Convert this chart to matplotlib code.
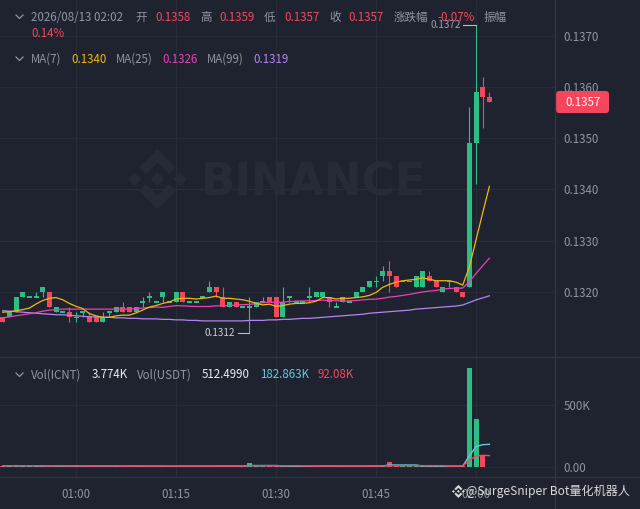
import numpy as np
import pandas as pd
import matplotlib
matplotlib.use("Agg")
import matplotlib.pyplot as plt
from matplotlib.patches import Polygon, FancyBboxPatch

plt.rcParams['font.family'] = ['Noto Sans CJK SC', 'DejaVu Sans']

BG = '#1f2330'
GRID = '#292d38'
SEP = '#31353f'
TXT = '#8f96a1'
UP = '#2ebd85'
DOWN = '#f6465d'
MA7_C = '#f0b90b'
MA25_C = '#eb40b5'
MA99_C = '#b385f0'
VMA5_C = '#64c8dc'
VMA10_C = '#f6465d'
WM = '#262b37'

# 1-minute candles, 00:49 .. 02:02
opens = [0.1315, 0.1315, 0.1316, 0.1319, 0.1319, 0.1319, 0.1320, 0.1320, 0.1316, 0.1316,
         0.1316, 0.1315, 0.1316, 0.1315, 0.1315, 0.1314, 0.1316, 0.1316, 0.1317, 0.1317,
         0.1316, 0.1318, 0.1319, 0.1318, 0.1319, 0.1318, 0.1318, 0.1320, 0.1318, 0.1318,
         0.1319, 0.1320, 0.1321, 0.1319, 0.1317, 0.1318, 0.1317, 0.1317, 0.1317, 0.1318,
         0.1319, 0.1319, 0.1315, 0.1319, 0.1318, 0.1318, 0.1319, 0.1319, 0.1319, 0.1319,
         0.1317, 0.1318, 0.1318, 0.1319, 0.1320, 0.1321, 0.1322, 0.1323, 0.1324, 0.1323,
         0.1322, 0.1322, 0.1321, 0.1321, 0.1323, 0.1322, 0.1320, 0.1322, 0.1321, 0.1320,
         0.1321, 0.1349, 0.1360, 0.1358]
highs = [0.1315, 0.1316, 0.1319, 0.1320, 0.1319, 0.1320, 0.1321, 0.1320, 0.1317, 0.1316,
         0.1317, 0.1316, 0.1316, 0.1316, 0.1315, 0.1316, 0.1316, 0.1317, 0.1318, 0.1317,
         0.1317, 0.1319, 0.1320, 0.1318, 0.1320, 0.1318, 0.1320, 0.1320, 0.1318, 0.1318,
         0.1319, 0.1322, 0.1321, 0.1321, 0.1318, 0.1318, 0.1317, 0.1319, 0.1318, 0.1319,
         0.1319, 0.1319, 0.1321, 0.1319, 0.1318, 0.1318, 0.1321, 0.1320, 0.1320, 0.1319,
         0.1318, 0.1319, 0.1318, 0.1320, 0.1321, 0.1322, 0.1323, 0.1325, 0.1326, 0.1323,
         0.1322, 0.1322, 0.1323, 0.1324, 0.1324, 0.1322, 0.1321, 0.1322, 0.1321, 0.1320,
         0.1356, 0.1372, 0.1362, 0.1359]
lows = [0.1314, 0.1315, 0.1316, 0.1319, 0.1319, 0.1319, 0.1319, 0.1317, 0.1316, 0.1316,
        0.1314, 0.1314, 0.1315, 0.1314, 0.1314, 0.1314, 0.1315, 0.1316, 0.1316, 0.1316,
        0.1316, 0.1317, 0.1318, 0.1318, 0.1318, 0.1318, 0.1318, 0.1318, 0.1318, 0.1318,
        0.1319, 0.1320, 0.1319, 0.1317, 0.1317, 0.1317, 0.1317, 0.1312, 0.1317, 0.1318,
        0.1318, 0.1315, 0.1315, 0.1318, 0.1318, 0.1318, 0.1318, 0.1319, 0.1319, 0.1317,
        0.1317, 0.1318, 0.1318, 0.1319, 0.1320, 0.1321, 0.1321, 0.1322, 0.1320, 0.1321,
        0.1322, 0.1322, 0.1321, 0.1321, 0.1322, 0.1321, 0.1320, 0.1321, 0.1320, 0.1319,
        0.1321, 0.1341, 0.1352, 0.1357]
closes = [0.1314, 0.1316, 0.1319, 0.1320, 0.1319, 0.1319, 0.1321, 0.1317, 0.1317, 0.1316,
          0.1315, 0.1315, 0.1316, 0.1314, 0.1314, 0.1315, 0.1316, 0.1317, 0.1316, 0.1316,
          0.1317, 0.1318, 0.1319, 0.1318, 0.1320, 0.1318, 0.1320, 0.1318, 0.1318, 0.1318,
          0.1319, 0.1321, 0.1320, 0.1317, 0.1318, 0.1317, 0.1317, 0.1317, 0.1318, 0.1318,
          0.1318, 0.1315, 0.1318, 0.1319, 0.1318, 0.1318, 0.1319, 0.1320, 0.1320, 0.1318,
          0.1317, 0.1319, 0.1318, 0.1320, 0.1321, 0.1322, 0.1322, 0.1324, 0.1323, 0.1321,
          0.1322, 0.1322, 0.1323, 0.1324, 0.1322, 0.1321, 0.1321, 0.1322, 0.1320, 0.1319,
          0.1349, 0.1359, 0.1358, 0.1357]

# MA values before enough candles are on screen
ma7_head = [0.13160, 0.13161, 0.13163, 0.13165, 0.13168, 0.13176]
ma25_head = [0.13149, 0.13151, 0.13153, 0.13155, 0.13157, 0.13159, 0.13162, 0.13164,
             0.13165, 0.13166, 0.13166, 0.13166, 0.13166, 0.13166, 0.13166, 0.13166,
             0.13166, 0.13166, 0.13166, 0.13166, 0.13167, 0.13168, 0.13169, 0.13170]
ma99 = [0.13163, 0.13162, 0.13161, 0.13160, 0.13159, 0.13158, 0.13157, 0.13156, 0.13155, 0.13155,
        0.13154, 0.13153, 0.13152, 0.13151, 0.13151, 0.13150, 0.13150, 0.13149, 0.13149, 0.13148,
        0.13148, 0.13147, 0.13147, 0.13147, 0.13146, 0.13146, 0.13145, 0.13145, 0.13144, 0.13144,
        0.13143, 0.13143, 0.13143, 0.13143, 0.13143, 0.13143, 0.13143, 0.13144, 0.13144, 0.13144,
        0.13145, 0.13145, 0.13146, 0.13146, 0.13147, 0.13148, 0.13148, 0.13149, 0.13150, 0.13151,
        0.13152, 0.13153, 0.13154, 0.13155, 0.13156, 0.13158, 0.13159, 0.13160, 0.13161, 0.13162,
        0.13163, 0.13164, 0.13166, 0.13167, 0.13168, 0.13169, 0.13170, 0.13171, 0.13172, 0.13174,
        0.13179, 0.13184, 0.13188, 0.13192]

# volume in K
volumes = [12, 10, 15, 8, 6, 6, 9, 11, 8, 5, 9, 7, 6, 10, 9, 8, 5, 7, 8, 8,
           7, 6, 7, 5, 8, 5, 9, 8, 5, 5, 6, 10, 8, 9, 7, 8, 5, 30, 8, 6,
           7, 10, 9, 6, 5, 5, 7, 8, 8, 7, 6, 8, 5, 8, 9, 10, 7, 9, 40, 9,
           6, 5, 8, 10, 8, 7, 6, 6, 8, 9, 800, 385, 95, 3.774]
vol_ma5 = [10, 10, 11, 10, 10, 9, 8, 8, 8, 8, 8, 8, 7, 8, 8, 8, 8, 7, 7, 7,
           8, 7, 7, 7, 7, 6, 7, 7, 7, 7, 7, 7, 7, 8, 8, 8, 7, 12, 12, 12,
           12, 12, 8, 7, 6, 6, 7, 7, 8, 8, 7, 7, 7, 7, 7, 8, 8, 9, 16, 16,
           16, 16, 16, 8, 7, 7, 7, 7, 7, 8, 90, 165, 180, 183]
vol_ma10 = [10, 10, 10, 10, 10, 10, 9, 9, 9, 9, 9, 8, 8, 8, 8, 8, 8, 8, 7, 7,
            7, 7, 7, 7, 7, 7, 7, 7, 7, 7, 7, 7, 7, 7, 7, 7, 7, 10, 10, 10,
            10, 10, 10, 10, 10, 9, 7, 7, 7, 7, 7, 7, 7, 7, 7, 7, 7, 8, 11, 11,
            11, 11, 11, 11, 11, 11, 11, 7, 7, 8, 55, 88, 94, 92]

time_ticks = [11, 26, 41, 56, 71]
time_labels = ['01:00', '01:15', '01:30', '01:45', '02:00']
price_ticks = [0.1320, 0.1330, 0.1340, 0.1350, 0.1360, 0.1370]

o = np.array(opens)
h = np.array(highs)
l = np.array(lows)
c = np.array(closes)
x = np.arange(len(c))
cols = np.where(c >= o, UP, DOWN)

close_s = pd.Series(closes)
ma7 = close_s.rolling(7).mean().to_numpy()
ma7[:6] = ma7_head
ma25 = close_s.rolling(25).mean().to_numpy()
ma25[:24] = ma25_head

fig = plt.figure(figsize=(6.4, 5.09), dpi=100, facecolor=BG)
W, H = 640, 509
ax = fig.add_axes([0, 1 - 357 / H, 555 / W, 357 / H], facecolor='none')
axv = fig.add_axes([0, 1 - 477 / H, 555 / W, 120 / H], facecolor='none')

xlim = (-0.405, 82.84)

# candles
minh = 0.00003
body = np.abs(c - o)
pad = np.maximum(0, minh - body) / 2
ax.vlines(x, l, h, colors=cols, lw=0.8, zorder=2)
ax.bar(x, np.maximum(body, minh), bottom=np.minimum(o, c) - pad, width=0.75,
       color=cols, linewidth=0, zorder=3)

ax.plot(x, ma99, color=MA99_C, lw=0.9, zorder=4)
ax.plot(x, ma25, color=MA25_C, lw=0.9, zorder=4)
ax.plot(x, ma7, color=MA7_C, lw=0.9, zorder=4)

# high / low markers
hi_i = int(np.argmax(h))
lo_i = int(np.argmin(l))
ax.plot([hi_i - 1.9, hi_i], [h[hi_i], h[hi_i]], color='#b7bdc6', lw=0.8)
ax.text(hi_i - 2.2, h[hi_i], '%.4f' % h[hi_i], color='#9aa0aa', fontsize=7.2,
        ha='right', va='center')
ax.plot([lo_i - 1.7, lo_i], [l[lo_i], l[lo_i]], color='#b7bdc6', lw=0.8)
ax.text(lo_i - 2.1, l[lo_i], '%.4f' % l[lo_i], color='#c9ced6', fontsize=7.2,
        ha='right', va='center')

ax.set_xlim(*xlim)
ax.set_ylim(0.130725, 0.137697)
ax.set_xticks(time_ticks)
ax.set_yticks(price_ticks)
ax.set_yticklabels(['%.4f' % p for p in price_ticks])
ax.yaxis.tick_right()
ax.tick_params(axis='x', length=0, labelbottom=False)
ax.tick_params(axis='y', length=0, pad=6, labelsize=8.3, labelcolor=TXT)
ax.grid(True, color=GRID, lw=0.8)
ax.set_axisbelow(True)
for s in ax.spines.values():
    s.set_visible(False)

# volume
axv.bar(x, np.array(volumes) * 1000, width=0.75, color=cols, linewidth=0, zorder=3)
axv.plot(x, np.array(vol_ma5) * 1000, color=VMA5_C, lw=1.0, zorder=4)
axv.plot(x, np.array(vol_ma10) * 1000, color=VMA10_C, lw=1.0, zorder=4)
axv.set_xlim(*xlim)
axv.set_ylim(-80.6e3, 887e3)
axv.set_xticks(time_ticks)
axv.set_xticklabels(time_labels)
axv.set_yticks([0, 500e3])
axv.set_yticklabels(['0.00', '500K'])
axv.yaxis.tick_right()
axv.tick_params(axis='x', length=0, pad=8, labelsize=8.3, labelcolor=TXT)
axv.tick_params(axis='y', length=0, pad=6, labelsize=8.3, labelcolor=TXT)
axv.grid(True, color=GRID, lw=0.8)
axv.set_axisbelow(True)
for s in axv.spines.values():
    s.set_visible(False)

# overlay in pixel coordinates
ov = fig.add_axes([0, 0, 1, 1])
ov.set_xlim(0, W)
ov.set_ylim(H, 0)
ov.axis('off')

ov.plot([0, W], [357, 357], color=SEP, lw=1)
ov.plot([0, W], [477, 477], color=SEP, lw=1)
ov.plot([555, 555], [0, H], color=SEP, lw=1)

# binance watermark
logo = [
    [(38.7, 53.2), (64, 27.9), (89.3, 53.2), (104, 38.5), (64, -1.5), (24, 38.5)],
    [(38.7, 74.8), (64, 100.1), (89.3, 74.8), (104, 89.5), (64, 129.5), (24, 89.5)],
    [(0, 64), (14.7, 49.3), (29.4, 64), (14.7, 78.7)],
    [(98.6, 64), (113.3, 49.3), (128, 64), (113.3, 78.7)],
    [(64, 49.1), (78.9, 64), (64, 78.9), (49.1, 64)],
]


def draw_logo(x0, y0, s, color):
    for shape in logo:
        pts = [(x0 + s * px, y0 + s * py) for px, py in shape]
        ov.add_patch(Polygon(pts, closed=True, facecolor=color, edgecolor='none'))


draw_logo(128, 149.7, 0.46, WM)
ov.text(314, 195, 'BINANCE', family='DejaVu Sans', fontweight='bold', fontsize=32.5,
        color=WM, ha='center', va='baseline')


def chevron(y):
    ov.plot([16, 19.5, 23], [y - 2, y + 1.5, y - 2], color=TXT, lw=0.9)


def row(y, parts):
    for xs, s, col in parts:
        ov.text(xs, y, s, color=col, fontsize=8.3, ha='left', va='center')


chevron(17)
row(17, [(31, '2026/08/13 02:02', TXT), (135, '开', TXT), (155, '0.1358', DOWN),
         (200, '高', TXT), (219, '0.1359', DOWN), (264, '低', TXT), (284, '0.1357', DOWN),
         (329, '收', TXT), (348, '0.1357', DOWN), (394, '涨跌幅', TXT),
         (437, '-0.07%', DOWN), (484, '振幅', TXT)])
row(33, [(31, '0.14%', DOWN)])
chevron(59)
row(59, [(31, 'MA(7)', TXT), (71, '0.1340', MA7_C), (116, 'MA(25)', TXT),
         (162, '0.1326', MA25_C), (207, 'MA(99)', TXT), (253, '0.1319', MA99_C)])
chevron(375)
row(375, [(31, 'Vol(ICNT)', TXT), (92, '3.774K', '#eaecef'), (137, 'Vol(USDT)', TXT),
          (202, '512.4990', '#eaecef'), (260, '182.863K', VMA5_C), (318, '92.08K', VMA10_C)])

# last price tag
ov.add_patch(FancyBboxPatch((556, 91), 53, 22, boxstyle='round,pad=0,rounding_size=3',
                            facecolor=DOWN, edgecolor='none'))
ov.text(582.5, 102, '0.1357', color='white', fontsize=8.3, ha='center', va='center')

# bottom-right watermark
draw_logo(452, 485, 0.1, '#d9d9d9')
ov.text(466, 491, '@SurgeSniper Bot量化机器人', color='#d9d9d9', fontsize=8.7,
        ha='left', va='center')

fig.savefig('out.png', dpi=100, facecolor=BG)
